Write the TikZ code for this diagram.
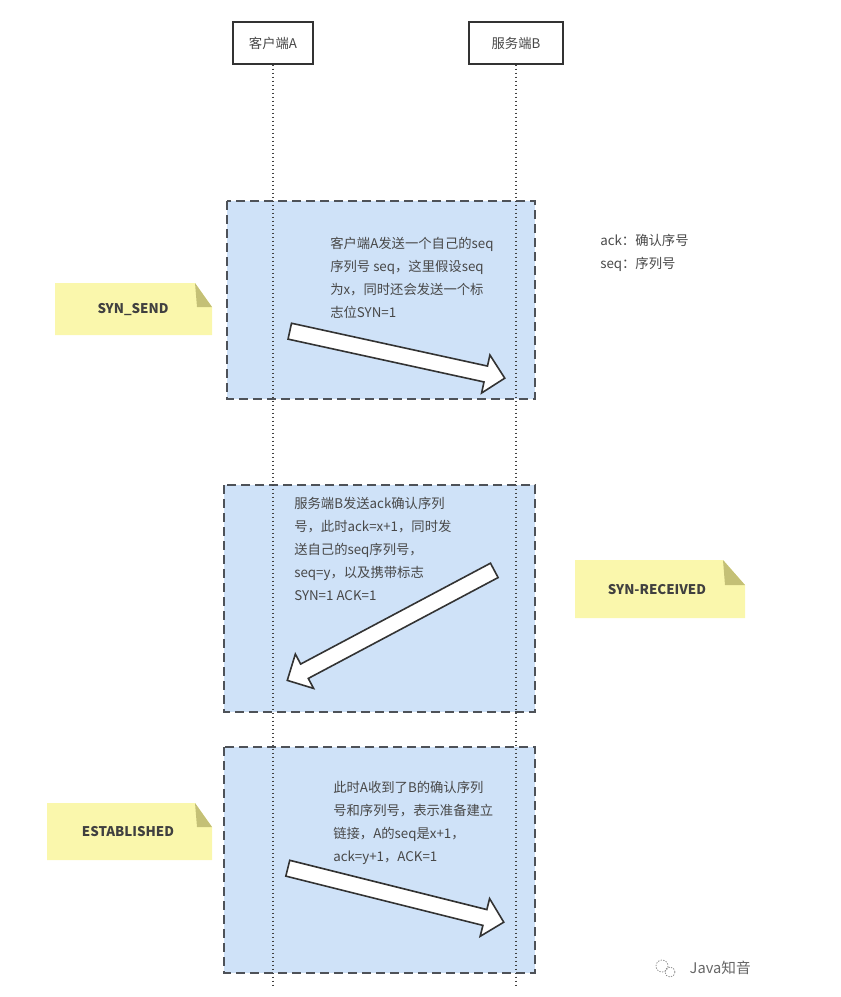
\documentclass[tikz,border=0pt]{standalone}
\usepackage{fontspec}
\setmainfont{Noto Sans CJK SC}
\usetikzlibrary{shapes.arrows,calc}

\definecolor{azulcaixa}{RGB}{207,226,248}
\definecolor{bordacaixa}{RGB}{78,82,88}
\definecolor{amarelo}{RGB}{250,247,172}
\definecolor{dobra}{RGB}{196,192,118}
\definecolor{texto}{RGB}{72,72,72}

\tikzset{
  ator/.style={draw=black!80, line width=1.5pt, fill=white, minimum width=60pt, minimum height=31pt, inner sep=0pt, text=texto, font=\fontsize{10}{12}\selectfont},
  caixa/.style={fill=azulcaixa, draw=bordacaixa, line width=2.2pt, dash pattern=on 7pt off 3.5pt},
  vida/.style={draw=black!75, line width=0.8pt, dash pattern=on 0.8pt off 2.2pt},
  seta/.style={single arrow, draw=black!80, line width=1.2pt, fill=white, inner xsep=0pt, inner ysep=5.5pt, single arrow head extend=8.5pt, anchor=tail},
  texto/.style={anchor=north west, inner sep=0pt, align=left, text=texto, font=\fontsize{10}{17.3}\selectfont},
  estado/.style={text=black!75, font=\fontsize{10}{12}\bfseries\selectfont},
}

\begin{document}
\begin{tikzpicture}[x=0.75pt, y=-0.75pt]

\useasboundingbox (0,0) rectangle (841,997);

% Caixas das etapas
\draw[caixa] (227,201) rectangle (535,399);
\draw[caixa] (224,485) rectangle (535,712);
\draw[caixa] (224,747) rectangle (535,973);

% Cliente e servidor
\node[ator] (cliente) at (273,43) {客户端A};
\node[ator, minimum width=70pt] (servidor) at (516,43) {服务端B};

% Linhas de vida
\coordinate (fimA) at (273,987);
\coordinate (fimB) at (516,987);
\draw[vida] (cliente.south) -- (fimA);
\draw[vida] (servidor.south) -- (fimB);

% Notas amarelas
\fill[amarelo] (55,283) -- (195,283) -- (212,307) -- (212,335) -- (55,335) -- cycle;
\fill[dobra] (195,283) -- (212,307) -- (197,307) -- cycle;
\node[estado] (synsend) at (133,310) {SYN\_SEND};

\fill[amarelo] (575,560) -- (723,560) -- (745,585) -- (745,618) -- (575,618) -- cycle;
\fill[dobra] (723,560) -- (745,585) -- (725,585) -- cycle;
\node[estado] (synrecv) at (657,590) {SYN-RECEIVED};

\fill[amarelo] (47,803) -- (195,803) -- (212,827) -- (212,860) -- (47,860) -- cycle;
\fill[dobra] (195,803) -- (212,827) -- (197,827) -- cycle;
\node[estado] (estab) at (128,832) {ESTABLISHED};

% Legenda
\node[texto] (legenda) at (600,234) {ack：确认序号\\seq：序列号};

% Textos das etapas
\node[texto] (passo1) at (330,237) {客户端A发送一个自己的seq\\序列号 seq，这里假设seq\\为x，同时还会发送一个标\\志位SYN=1};
\node[texto] (passo2) at (294,497) {服务端B发送ack确认序列\\号，此时ack=x+1，同时发\\送自己的seq序列号，\\seq=y，以及携带标志\\SYN=1 ACK=1};
\node[texto] (passo3) at (333,781) {此时A收到了B的确认序列\\号和序列号，表示准备建立\\链接，A的seq是x+1，\\ack=y+1，ACK=1};

% Setas largas
\coordinate (a1) at (289,331); \coordinate (b1) at (504,378);
\coordinate (a2) at (495,570); \coordinate (b2) at (288,680);
\coordinate (a3) at (287,868); \coordinate (b3) at (503,922);
\foreach \i in {1,2,3}
  \path let \p1=($(b\i)-(a\i)$), \n1={veclen(\x1,\y1)}, \n2={atan2(\y1,\x1)} in
    node[seta, minimum height=\n1, rotate=\n2] (seta\i) at (a\i) {};

% Marca
\draw[black!45, line width=0.6pt, dash pattern=on 1pt off 1pt] (662,966) circle (6);
\draw[black!45, line width=0.6pt, dash pattern=on 1pt off 1pt] (670,972) circle (5);
\node[text=black!60, font=\fontsize{11}{13}\selectfont, anchor=west] (marca) at (685,968) {Java知音};

\end{tikzpicture}
\end{document}
